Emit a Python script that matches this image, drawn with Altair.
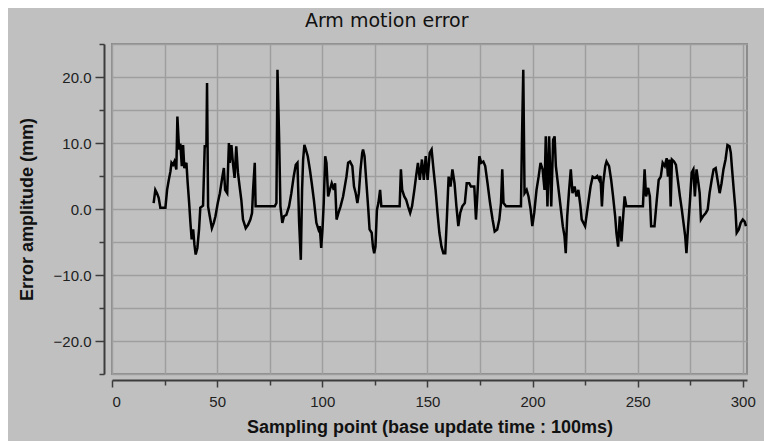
import altair as alt
import pandas as pd

# Sampling point (x) and error amplitude in mm (y)
x_vals = [19.8, 20.6, 21.4, 22.2, 23.0, 25.4, 26.2, 27.0, 27.8, 28.3, 29.0, 29.7, 30.6, 31.1, 31.9,
          32.5, 33.2, 33.8, 34.4, 35.4, 36.0, 36.7, 37.3, 37.9, 38.6, 39.2, 39.8, 40.6, 41.4, 42.0,
          43.3, 44.1, 44.9, 45.2, 45.7, 46.5, 47.5, 48.4, 49.2, 50.3, 51.3, 52.4, 53.2, 53.8, 54.8,
          55.6, 56.0, 56.8, 57.5, 58.3, 59.1, 59.9, 60.7, 61.5, 62.3, 63.6, 64.7, 65.8, 66.6, 67.1,
          67.9, 68.3, 77.4, 78.2, 78.7, 79.5, 80.1, 81.0, 81.8, 82.9, 84.2, 85.3, 86.4, 87.4, 88.2,
          89.0, 89.8, 90.4, 90.9, 91.5, 92.2, 93.1, 94.1, 95.0, 96.0, 97.2, 98.2, 98.8, 99.5, 100.1,
          100.7, 101.4, 102.0, 102.8, 103.6, 104.5, 105.5, 106.1, 106.8, 107.7, 108.7, 109.9, 111.5,
          112.3, 113.2, 114.3, 115.1, 115.9, 116.7, 117.4, 118.2, 119.0, 119.4, 120.1, 121.0, 121.9,
          122.5, 123.5, 124.1, 124.7, 125.3, 126.0, 126.7, 127.5, 128.1, 136.8, 137.4, 138.0, 139.0,
          139.9, 140.8, 141.8, 142.7, 143.8, 144.6, 145.5, 146.4, 147.4, 148.3, 149.2, 150.1, 151.1,
          152.0, 152.9, 153.9, 154.8, 155.7, 156.7, 157.6, 158.5, 159.3, 160.1, 161.0, 161.9, 162.9,
          163.8, 164.7, 165.6, 166.6, 167.8, 168.7, 169.9, 170.7, 172.3, 173.1, 173.9, 174.7, 175.6,
          176.6, 177.5, 178.6, 179.8, 181.0, 182.0, 183.2, 184.2, 185.0, 185.6, 186.2, 187.4, 194.5,
          195.0, 195.6, 196.2, 197.2, 198.1, 199.1, 199.9, 200.8, 201.9, 202.9, 203.8, 204.8, 205.7,
          206.3, 207.1, 207.9, 208.9, 209.8, 210.5, 211.1, 212.4, 213.5, 214.4, 215.2, 215.8, 216.5,
          217.4, 218.2, 219.0, 220.0, 220.9, 221.8, 222.8, 223.4, 225.0, 226.5, 227.6, 228.6, 229.7,
          230.8, 231.7, 232.3, 233.0, 233.6, 234.6, 235.2, 236.4, 237.4, 238.3, 239.3, 239.9, 240.7,
          241.5, 242.3, 243.0, 243.8, 244.6, 252.5, 253.3, 254.0, 255.0, 255.8, 256.4, 258.0, 259.1,
          260.0, 261.0, 261.9, 262.9, 263.8, 264.4, 265.1, 265.7, 266.3, 267.3, 268.2, 269.1, 270.1,
          271.0, 272.0, 272.6, 273.2, 274.0, 274.8, 275.7, 276.5, 277.2, 278.0, 278.9, 279.5, 280.1,
          281.1, 282.4, 283.3, 284.2, 285.2, 286.1, 287.1, 288.0, 289.0, 289.9, 290.8, 291.8, 292.7,
          293.7, 294.3, 294.9, 295.7, 296.5, 297.1, 298.1, 299.0, 300.0, 300.9, 301.5]
y_vals = [0.9, 2.9, 2.4, 1.7, 0.2, 0.2, 2.9, 4.4, 5.7, 7.0, 6.7, 7.2, 6.0, 14.0, 9.0,
          9.9, 6.5, 9.7, 6.2, 7.0, 3.9, 0.9, -2.1, -4.6, -3.1, -5.4, -6.9, -5.9, -3.1, 0.2,
          0.5, 9.5, 9.5, 19.1, 0.4, -1.1, -2.9, -2.1, -1.1, 0.9, 2.4, 4.7, 6.2, 2.9, 2.4,
          10.0, 7.0, 9.7, 7.0, 4.7, 9.5, 5.5, 3.4, 1.4, -1.6, -2.9, -2.4, -1.6, -0.6, 2.9,
          7.0, 0.4, 0.4, 0.9, 21.1, 10.5, 0.4, -2.1, -1.1, -0.9, 0.4, 2.4, 4.9, 6.7, 7.0,
          -2.1, -7.7, 2.9, 7.5, 9.7, 9.0, 8.0, 6.0, 3.9, 1.4, -2.1, -3.1, -2.6, -5.9, -3.1,
          0.9, 8.0, 7.0, 1.9, 2.9, 3.9, 2.9, 3.9, -1.6, -0.6, 0.4, 1.9, 4.9,
          7.0, 7.2, 6.5, 3.4, 2.4, 0.9, 2.4, 6.0, 8.5, 9.0, 8.0, 3.9, -0.1,
          -3.1, -3.6, -5.7, -6.7, -5.7, -0.1, 0.9, 2.9, 0.4, 0.4, 6.0, 2.9, 1.9,
          1.4, 0.4, -0.6, 0.4, 2.9, 4.9, 7.0, 4.4, 7.5, 4.4, 8.0, 4.4, 8.5,
          9.0, 6.0, 2.9, -0.6, -3.6, -5.7, -6.7, -6.7, -1.1, 4.9, 3.4, 6.0, 3.9,
          0.4, -2.6, -0.6, 0.4, 0.9, 3.9, 3.9, 3.4, 3.4, -1.6, 2.9, 8.0, 7.0,
          7.2, 6.5, 3.9, 0.9, -1.6, -3.4, -3.1, -1.6, 0.9, 6.0, 0.9, 0.4, 0.4,
          11.0, 21.1, 2.4, 2.9, 1.9, -0.1, -2.6, -0.6, 2.9, 4.9, 7.0, 6.0, 2.9,
          11.0, 0.4, 11.0, 0.4, 10.5, 11.0, 6.5, 2.9, -0.1, -2.6, -4.1, -6.7, -1.1,
          2.9, 6.0, 2.4, 3.4, 1.9, 2.9, 0.4, -1.6, -2.6, 0.9, 3.4, 4.9, 4.7,
          5.0, 4.4, 5.0, 0.4, 3.9, 6.5, 7.2, 6.5, 4.4, 1.9, -1.1, -3.6, -5.7,
          -1.1, -4.9, -1.6, 1.9, 0.4, 0.4, 6.0, 1.9, 3.2, 1.9, -2.6, -2.6, 1.4,
          4.4, 4.9, 7.0, 6.5, 7.7, 4.9, 7.5, 0.4, 7.5, 7.2, 6.7, 4.4, 1.9,
          -0.1, -2.6, -4.1, -6.7, -2.6, 0.9, 5.5, 6.0, 1.9, 6.0, 3.9, 2.4, -1.6,
          -1.1, -0.6, -0.1, 2.4, 4.4, 6.0, 6.2, 4.4, 2.4, 3.9, 6.0, 7.5, 9.7,
          9.5, 8.5, 6.0, 2.9, -0.1, -3.6, -3.1, -2.1, -1.6, -1.9, -2.6]

x_ticks = list(range(0, 301, 25))
y_ticks = list(range(-25, 26, 5))

df = pd.DataFrame({"x": x_vals, "y": y_vals})

chart = alt.Chart(df).mark_line(color="#000000", strokeWidth=2.5, strokeJoin="miter").encode(
    x=alt.X("x:Q",
            scale=alt.Scale(domain=[0, 302], nice=False, zero=False),
            axis=alt.Axis(values=x_ticks, format="d",
                          labelExpr="datum.value % 50 == 0 ? datum.label : ''",
                          title="Sampling point (base update time : 100ms)",
                          offset=6,
                          tickSize={"condition": {"test": "datum.value % 50 == 0", "value": 7}, "value": 5},
                          labelPadding=7, titlePadding=9)),
    y=alt.Y("y:Q",
            scale=alt.Scale(domain=[-25, 25], nice=False, zero=False),
            axis=alt.Axis(values=y_ticks,
                          labelExpr="datum.value % 10 == 0 ? format(datum.value, '.1f') : ''",
                          title="Error amplitude (mm)",
                          offset=8,
                          tickSize={"condition": {"test": "datum.value % 10 == 0", "value": 9}, "value": 5},
                          labelPadding=4, titlePadding=17)),
    order=alt.Order("x:Q"),
).properties(
    width=635,
    height=330,
    title=alt.TitleParams("Arm motion error", font="DejaVu Sans", fontSize=19, fontWeight="normal",
                          color="#111111", anchor="middle", frame="bounds", offset=12),
    background="#c0c0c0",
    autosize=alt.AutoSizeParams(type="none"),
    padding={"left": 104, "top": 36, "right": 17, "bottom": 67},
).configure_view(
    stroke="#8c8c8c", strokeWidth=2, fill="#c0c0c0"
).configure_axis(
    grid=True, gridColor="#9e9e9e", gridWidth=1.5,
    domainColor="#3c3c3c", domainWidth=2,
    tickColor="#3c3c3c", tickWidth=1.5,
    labelFont="Liberation Sans", labelFontSize=15, labelColor="#202020",
    titleFont="Liberation Sans", titleFontSize=18, titleFontWeight="bold", titleColor="#111111",
)

chart.save("out.html", embed_options={"renderer": "svg", "actions": False})
